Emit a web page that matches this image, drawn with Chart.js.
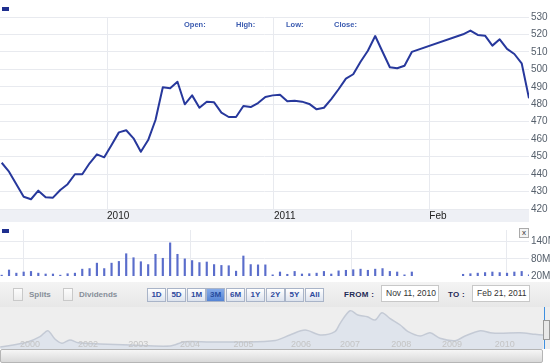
<!DOCTYPE html>
<html>
<head>
<meta charset="utf-8">
<title>Price chart</title>
<script src="https://cdn.jsdelivr.net/npm/chart.js@4.4.1/dist/chart.umd.min.js"></script>
<style>
    html, body { margin: 0; padding: 0; background: #fff; }
    #wrap { position: relative; width: 550px; height: 364px; overflow: hidden; font-family: "Liberation Sans", Arial, sans-serif; }
    #wrap canvas, #wrap div { position: absolute; }
    .legend-key { width: 7px; height: 4px; background: #1f2f8f; left: 2px; }
    .ohlc { top: 20px; font: bold 7.5px "Liberation Sans", Arial, sans-serif; color: #3b5bb0; line-height: 10px; }
    #close-btn { left: 519px; top: 228px; width: 10px; height: 10px; box-sizing: border-box; border: 1px solid #aaa; background: #f4f4f4; font: 8px "Liberation Sans", Arial, sans-serif; line-height: 7px; text-align: center; color: #333; }
    #controls { left: 0; top: 282px; width: 550px; height: 25px; background: linear-gradient(#f4f4f4, #e7e7e7); }
    .cb { top: 6px; width: 10px; height: 13px; box-sizing: border-box; border: 1px solid #c9c9c9; background: linear-gradient(#fdfdfd, #ececec); }
    .lbl { top: 8px; font: bold 8px "Liberation Sans", Arial, sans-serif; color: #878e99; line-height: 10px; }
    .btn { top: 6px; width: 19px; height: 14px; box-sizing: border-box; border: 1px solid #a9b4c8; background: linear-gradient(#ffffff, #dde3ee); font: bold 8px "Liberation Sans", Arial, sans-serif; color: #2e4a9e; line-height: 12px; text-align: center; }
    .btn.on { background: linear-gradient(#86abe8, #5584d4); color: #274c9e; }
    .field-lbl { top: 8px; font: bold 8px "Liberation Sans", Arial, sans-serif; color: #1e2a55; line-height: 10px; letter-spacing: 0.3px; }
    .field { top: 3px; width: 58px; height: 17px; box-sizing: border-box; border: 1px solid #c8c8c8; background: #fff; font: 8.5px "Liberation Sans", Arial, sans-serif; color: #333; line-height: 15px; padding-left: 4px; }
    #nav { left: 0; top: 307px; width: 550px; height: 42px; background: #eeeeee; }
    #scroll { left: 0; top: 349px; width: 543px; height: 14px; box-sizing: border-box; border: 1px solid #b5b5b5; border-radius: 2px; background: linear-gradient(#f6f6f6, #d9d9d9); }
    #handle-line { left: 544px; top: 307px; width: 1px; height: 42px; background: #3d8fe0; }
    #handle-grip { left: 543px; top: 320px; width: 7px; height: 20px; box-sizing: border-box; border: 1px solid #999; background: #e8e8e8; }
</style>
</head>
<body>
<div id="wrap">
    <canvas id="priceChart" width="550" height="222" style="left:0;top:0"></canvas>
    <div class="legend-key" style="top:7px"></div>
    <div class="ohlc" style="left:184px">Open:</div>
    <div class="ohlc" style="left:236px">High:</div>
    <div class="ohlc" style="left:286px">Low:</div>
    <div class="ohlc" style="left:334px">Close:</div>

    <canvas id="volumeChart" width="550" height="62" style="left:0;top:222px"></canvas>
    <div class="legend-key" style="top:229px"></div>
    <div id="close-btn">x</div>

    <div id="controls">
        <div class="cb" style="left:13px"></div>
        <div class="lbl" style="left:29px">Splits</div>
        <div class="cb" style="left:63px"></div>
        <div class="lbl" style="left:79px">Dividends</div>
        <div class="btn" style="left:147px">1D</div>
        <div class="btn" style="left:167px">5D</div>
        <div class="btn" style="left:187px">1M</div>
        <div class="btn on" style="left:206px">3M</div>
        <div class="btn" style="left:226px">6M</div>
        <div class="btn" style="left:246px">1Y</div>
        <div class="btn" style="left:266px">2Y</div>
        <div class="btn" style="left:285px">5Y</div>
        <div class="btn" style="left:305px">All</div>
        <div class="field-lbl" style="left:344px">FROM :</div>
        <div class="field" style="left:381px">Nov 11, 2010</div>
        <div class="field-lbl" style="left:448px">TO :</div>
        <div class="field" style="left:472px">Feb 21, 2011</div>
    </div>

    <div id="nav"><canvas id="navChart" width="543" height="42" style="left:0;top:0"></canvas></div>
    <div id="scroll"></div>
    <div id="handle-line"></div>
    <div id="handle-grip"></div>
</div>

<script>
// Trading-session index (0 = Nov 11, 2010) and closing price
const priceDays = [0, 1, 3, 4, 5, 6, 7, 8, 9, 10, 11, 12, 13, 14, 15, 16, 17, 18, 19, 20,
    21, 22, 23, 24, 25, 26, 27, 28, 29, 30, 31, 32, 33, 34, 35, 36, 37, 38, 39, 40,
    41, 42, 43, 44, 45, 46, 47, 48, 49, 50, 51, 52, 53, 54, 55, 56,
    63, 64, 65, 66, 67, 68, 69, 70, 71, 72];
const closes = [446.5, 441.4, 427.0, 425.6, 430.5, 426.7, 426.5, 430.9, 434.2, 439.9,
    439.9, 446.2, 451.3, 449.6, 456.7, 463.9, 465.1, 460.5, 452.8, 459.5,
    471.0, 489.7, 489.2, 492.9, 480.0, 485.1, 478.0, 481.5, 481.1, 475.2,
    472.7, 472.7, 479.0, 478.4, 480.7, 484.2, 485.1, 485.5, 481.7, 482.0,
    481.5, 480.2, 477.1, 478.0, 483.0, 488.6, 494.7, 497.2, 504.4, 510.7,
    519.1, 510.1, 501.2, 500.6, 502.1, 510.0,
    520.1, 522.2, 519.7, 519.3, 513.6, 517.2, 511.7, 508.8, 503.5, 483.4];

// Volume in millions
const volumeDays = [0, 1, 2, 3, 4, 5, 6, 7, 8, 9, 10, 11, 12, 13, 14, 15, 16, 17, 18, 19,
    20, 21, 22, 23, 24, 25, 26, 27, 28, 29, 30, 31, 32, 33, 34, 35, 36, 37, 38, 39,
    40, 41, 42, 43, 44, 45, 46, 47, 48, 49, 50, 51, 52, 53, 54, 55, 56,
    63, 64, 65, 66, 67, 68, 69, 70, 71, 72];
const volumes = [23, 41, 30, 34, 36, 30, 27, 27, 23, 28, 30, 44, 46, 65, 46, 65, 71, 98, 84, 70,
    60, 96, 82, 136, 96, 80, 74, 67, 69, 60, 57, 56, 37, 90, 60, 59, 59, 24, 34, 26,
    36, 27, 28, 30, 36, 27, 38, 40, 42, 44, 40, 44, 46, 36, 34, 24, 34,
    26, 28, 30, 32, 34, 32, 30, 34, 36, 24];

// Axis ticks
const priceTickDays = [14.38, 37.18, 58.39];
const priceTickLabels = ['2010', '2011', 'Feb'];
const volumeTicks = [20, 80, 140];
const volumeTickLabels = ['20M', '80M', '140M'];

// Long-range navigator (decimal year, price)
const navYears = [2000.36, 2000.87, 2001.12, 2001.27, 2001.41, 2001.54, 2001.69, 2001.85, 2002.27, 2002.84,
    2003.61, 2003.89, 2004.37, 2004.95, 2005.62, 2005.90, 2006.19, 2006.48, 2006.76, 2006.86,
    2007.05, 2007.20, 2007.38, 2007.53, 2007.66, 2007.81, 2008.01, 2008.16, 2008.39, 2008.58,
    2008.77, 2009.06, 2009.25, 2009.54, 2009.73, 2009.92, 2010.30, 2010.59, 2010.74];
const navPrices = [71, 239, 439, 653, 346, 204, 321, 225, 179, 143,
    107, 261, 250, 250, 303, 500, 678, 500, 618, 917,
    1367, 1214, 1153, 1035, 1296, 1096, 857, 618, 464, 582,
    382, 296, 464, 653, 582, 561, 582, 525, 500];
const navTickYears = [2000.93, 2002.04, 2003.0, 2003.99, 2005.01, 2006.11, 2007.05, 2008.03, 2009.0, 2010.01];
const navTickLabels = ['2000', '2002', '2003', '2004', '2005', '2006', '2007', '2008', '2009', '2010'];

const GRID = '#e8eaef';
const AXIS_TEXT = '#56606c';

// Grey band behind the date labels
const dateBand = {
    id: 'dateBand',
    beforeDraw(chart) {
        const { ctx, chartArea } = chart;
        ctx.save();
        ctx.fillStyle = '#eef0f5';
        ctx.fillRect(0, chartArea.bottom, chartArea.right, chart.height - chartArea.bottom);
        ctx.restore();
    }
};

// Year labels drawn inside the navigator, over the area
const navYearLabels = {
    id: 'navYearLabels',
    afterDatasetsDraw(chart) {
        const { ctx, chartArea, scales } = chart;
        ctx.save();
        ctx.fillStyle = '#c4c4c4';
        ctx.font = "9px 'Liberation Sans', Arial, sans-serif";
        ctx.textAlign = 'center';
        ctx.textBaseline = 'middle';
        navTickYears.forEach((t, i) => {
            ctx.fillText(navTickLabels[i], scales.x.getPixelForValue(t), chartArea.bottom - 4);
        });
        ctx.restore();
    }
};

document.addEventListener('DOMContentLoaded', function() {
    initializePriceChart();
    initializeVolumeChart();
    initializeNavigator();
});

function initializePriceChart() {
    const ctx = document.getElementById('priceChart');
    new Chart(ctx, {
        type: 'line',
        data: {
            datasets: [{
                data: priceDays.map((d, i) => ({ x: d, y: closes[i] })),
                borderColor: '#27389c',
                borderWidth: 2,
                pointRadius: 0,
                tension: 0,
                borderJoinStyle: 'round'
            }]
        },
        options: {
            responsive: false,
            animation: false,
            layout: { padding: { top: 17, left: 0, right: 0, bottom: 0 } },
            plugins: { legend: { display: false }, tooltip: { enabled: false } },
            scales: {
                x: {
                    type: 'linear',
                    min: -0.232,
                    max: 72,
                    border: { display: false },
                    grid: { color: GRID, drawTicks: false },
                    afterBuildTicks: function(scale) {
                        scale.ticks = priceTickDays.map(v => ({ value: v }));
                    },
                    afterFit: function(scale) { scale.height = 13; },
                    ticks: {
                        align: 'start',
                        padding: 1.5,
                        autoSkip: false,
                        maxRotation: 0,
                        color: '#222',
                        font: { family: "'Liberation Sans', Arial, sans-serif", size: 10 },
                        callback: function(value, index) { return priceTickLabels[index]; }
                    }
                },
                y: {
                    position: 'right',
                    min: 420,
                    max: 530,
                    border: { display: false },
                    grid: { color: GRID, drawTicks: false },
                    afterFit: function(scale) { scale.width = 21; },
                    ticks: {
                        stepSize: 10,
                        padding: 2,
                        color: AXIS_TEXT,
                        font: { family: "'Liberation Sans', Arial, sans-serif", size: 10 }
                    }
                }
            }
        },
        plugins: [dateBand]
    });
}

function initializeVolumeChart() {
    const ctx = document.getElementById('volumeChart');
    new Chart(ctx, {
        type: 'bar',
        data: {
            datasets: [{
                data: volumeDays.map((d, i) => ({ x: d, y: volumes[i] })),
                backgroundColor: '#5a6dcb',
                barThickness: 1.5
            }]
        },
        options: {
            responsive: false,
            animation: false,
            layout: { padding: { top: 5, left: 0, right: 0, bottom: 6 } },
            plugins: { legend: { display: false }, tooltip: { enabled: false } },
            scales: {
                x: {
                    type: 'linear',
                    min: -0.232,
                    max: 72,
                    offset: false,
                    border: { display: false },
                    grid: { color: GRID, drawTicks: false },
                    afterBuildTicks: function(scale) {
                        scale.ticks = priceTickDays.map(v => ({ value: v }));
                    },
                    afterFit: function(scale) { scale.height = 0; },
                    ticks: { display: false }
                },
                y: {
                    position: 'right',
                    min: 20,
                    max: 181,
                    border: { display: false },
                    grid: {
                        drawTicks: false,
                        color: function(c) { return c.tick && c.tick.value === 20 ? 'rgba(0,0,0,0)' : GRID; }
                    },
                    afterBuildTicks: function(scale) {
                        scale.ticks = volumeTicks.map(v => ({ value: v }));
                    },
                    afterFit: function(scale) { scale.width = 21; },
                    ticks: {
                        padding: 2,
                        color: AXIS_TEXT,
                        font: { family: "'Liberation Sans', Arial, sans-serif", size: 10 },
                        callback: function(value, index) { return volumeTickLabels[index]; }
                    }
                }
            }
        }
    });
}

function initializeNavigator() {
    const ctx = document.getElementById('navChart');
    new Chart(ctx, {
        type: 'line',
        data: {
            datasets: [{
                data: navYears.map((t, i) => ({ x: t, y: navPrices[i] })),
                borderColor: '#c4cad5',
                backgroundColor: '#dfe4ec',
                borderWidth: 1.5,
                fill: 'origin',
                pointRadius: 0,
                tension: 0.3
            }]
        },
        options: {
            responsive: false,
            animation: false,
            layout: { padding: 0 },
            plugins: { legend: { display: false }, tooltip: { enabled: false } },
            scales: {
                x: { type: 'linear', display: false, min: 2000.355, max: 2010.74 },
                y: { display: false, min: 0, max: 1500 }
            }
        },
        plugins: [navYearLabels]
    });
}
</script>
</body>
</html>
